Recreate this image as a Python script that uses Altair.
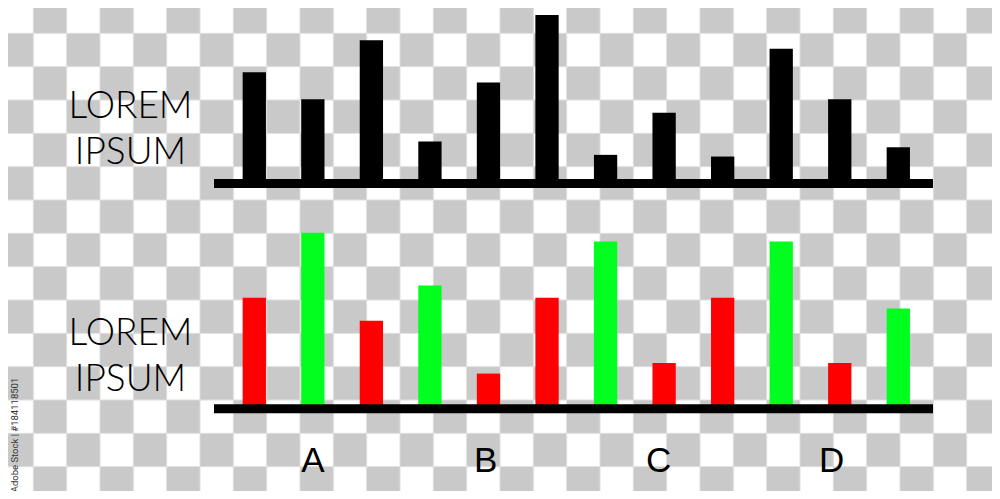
import altair as alt
import pandas as pd

# ---- data ----
bar_index = list(range(12))
top_values = [66, 50, 85, 25, 60, 100, 17, 42, 16, 80, 50, 21.5]
bottom_values = [63, 100, 50, 70, 20, 63, 95, 26, 63, 95, 26, 57]
bottom_kind = ["down", "up", "down", "up", "down", "down", "up", "down", "down", "up", "down", "up"]
group_labels = ["A", "B", "C", "D"]
side_lines = ["LOREM", "IPSUM"]
credit = "Adobe Stock | #184118501"

OFF = 8  # page margin
W, H = 984, 483

# checkerboard background (decoration)
cells = pd.DataFrame(
    [{"c": c, "c2": c + 1, "r": r, "r2": r + 1}
     for r in range(15) for c in range(30) if (r + c) % 2 == 1]
)
checker = alt.Chart(cells).mark_rect(color="#c9c9c9", stroke="#dedede", strokeWidth=1).encode(
    x=alt.X("c:Q", scale=alt.Scale(domain=[0, 30], range=[-OFF, 1000 - OFF], nice=False, zero=False), axis=None),
    x2="c2:Q",
    y=alt.Y("r:Q", scale=alt.Scale(domain=[0, 15], range=[-OFF, 500 - OFF], nice=False, zero=False), axis=None),
    y2="r2:Q",
)

top_df = pd.DataFrame({"i": bar_index, "v": top_values})
bot_df = pd.DataFrame({"i": bar_index, "v": bottom_values, "k": bottom_kind})

xscale = alt.Scale(domain=[0, 11], range=[254.3 - OFF, 898.3 - OFF], nice=False, zero=False, padding=0)

top_bars = alt.Chart(top_df).mark_bar(width=23.3, color="#000000").encode(
    x=alt.X("i:Q", scale=xscale, axis=None),
    y=alt.Y("v:Q", scale=alt.Scale(domain=[0, 100], range=[175.5, 7], nice=False), axis=None),
)

bot_bars = alt.Chart(bot_df).mark_bar(width=23.3).encode(
    x=alt.X("i:Q", scale=xscale, axis=None),
    y=alt.Y("v:Q", scale=alt.Scale(domain=[0, 100], range=[400.8, 224.7], nice=False), axis=None),
    color=alt.Color("k:N", scale=alt.Scale(domain=["down", "up"], range=["#ff0000", "#00ff1e"]), legend=None),
)

one = pd.DataFrame({"t": ["\n".join(side_lines)]})
top_rule = alt.Chart(one).mark_rule(color="#000000", strokeWidth=9).encode(
    x=alt.value(214 - OFF), x2=alt.value(933 - OFF), y=alt.value(183.5 - OFF)
)
bot_rule = alt.Chart(one).mark_rule(color="#000000", strokeWidth=9).encode(
    x=alt.value(214 - OFF), x2=alt.value(933 - OFF), y=alt.value(408.8 - OFF)
)

top_text = alt.Chart(one).mark_text(
    font="Lato", fontSize=37, fontWeight=300, align="center", baseline="alphabetic",
    lineBreak="\n", lineHeight=46, color="#000000"
).encode(x=alt.value(130.5 - OFF), y=alt.value(118.3 - OFF), text="t:N")
bot_text = alt.Chart(one).mark_text(
    font="Lato", fontSize=37, fontWeight=300, align="center", baseline="alphabetic",
    lineBreak="\n", lineHeight=46, color="#000000"
).encode(x=alt.value(130.5 - OFF), y=alt.value(345 - OFF), text="t:N")

lab_df = pd.DataFrame({"g": group_labels})
labels = alt.Chart(lab_df).mark_text(
    font="Liberation Sans", fontSize=35, baseline="alphabetic", align="center", color="#000000"
).encode(
    x=alt.X("g:N", scale=alt.Scale(type="point", domain=group_labels, range=[312.8 - OFF, 831.7 - OFF], padding=0), axis=None),
    y=alt.value(472 - OFF),
    text="g:N",
)

cred_df = pd.DataFrame({"t": [credit]})
cred = alt.Chart(cred_df).mark_text(
    font="Roboto", fontSize=9.5, angle=270, align="center", baseline="middle", color="#333333"
).encode(x=alt.value(15 - OFF), y=alt.value(435 - OFF), text="t:N")

chart = alt.layer(
    checker, top_bars, bot_bars, top_rule, bot_rule, top_text, bot_text, labels, cred
).resolve_scale(x="independent", y="independent", color="independent").properties(
    width=W, height=H, autosize=alt.AutoSizeParams(type="none"), padding=0, background="#ffffff"
).configure_view(stroke=None)

chart.save("out.html", embed_options={"renderer": "svg", "actions": False})
